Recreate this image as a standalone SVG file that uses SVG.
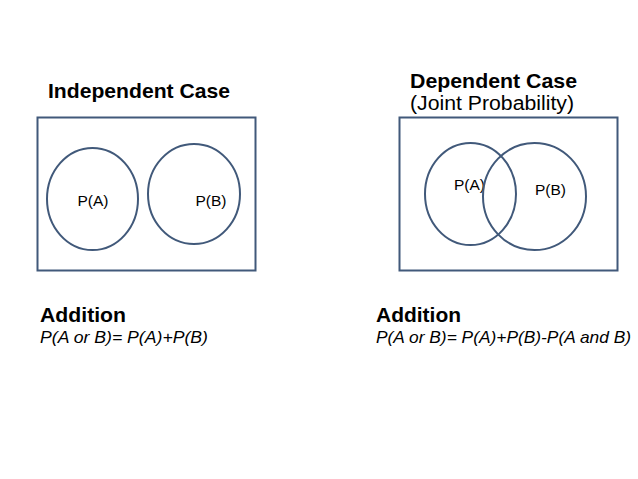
<svg xmlns="http://www.w3.org/2000/svg" width="638" height="479" viewBox="0 0 638 479">
<style>
text{font-family:"Liberation Sans",Arial,sans-serif;fill:#000}
.t{font-size:21px;font-weight:bold}
.a{font-size:21px;font-weight:bold}
.s{font-size:20px}
.f{font-size:17px;font-style:italic}
.l{font-size:15.5px}
.sh{fill:none;stroke:#41597a;stroke-width:2}
</style>
<rect width="638" height="479" fill="#fff"/>
<g id="independent">
<text class="t" x="48" y="98" textLength="182" lengthAdjust="spacingAndGlyphs">Independent Case</text>
<rect class="sh" x="37.5" y="117.5" width="218" height="153"/>
<g id="ind-A"><ellipse class="sh" cx="92.5" cy="199" rx="45.5" ry="51"/><text class="l" x="93" y="206" text-anchor="middle">P(A)</text></g>
<g id="ind-B"><ellipse class="sh" cx="194" cy="194" rx="46" ry="50"/><text class="l" x="211" y="206" text-anchor="middle">P(B)</text></g>
<text class="a" x="40" y="322" textLength="86" lengthAdjust="spacingAndGlyphs">Addition</text>
<text class="f" x="40" y="343" textLength="168" lengthAdjust="spacingAndGlyphs">P(A or B)= P(A)+P(B)</text>
</g>
<g id="dependent">
<text class="t" x="410" y="88" textLength="167" lengthAdjust="spacingAndGlyphs">Dependent Case</text>
<text class="s" x="410" y="110" textLength="164" lengthAdjust="spacingAndGlyphs">(Joint Probability)</text>
<rect class="sh" x="399.5" y="117.5" width="218" height="153"/>
<g id="dep-A"><ellipse class="sh" cx="470.5" cy="194" rx="45.5" ry="51"/><text class="l" x="469.5" y="190" text-anchor="middle">P(A)</text></g>
<g id="dep-B"><ellipse class="sh" cx="534.5" cy="196.5" rx="51.5" ry="53.5"/><text class="l" x="550.5" y="195" text-anchor="middle">P(B)</text></g>
<text class="a" x="376" y="322" textLength="85" lengthAdjust="spacingAndGlyphs">Addition</text>
<text class="f" x="376" y="343" textLength="255" lengthAdjust="spacingAndGlyphs">P(A or B)= P(A)+P(B)-P(A and B)</text>
</g>
<g id="connectors"/>
</svg>
